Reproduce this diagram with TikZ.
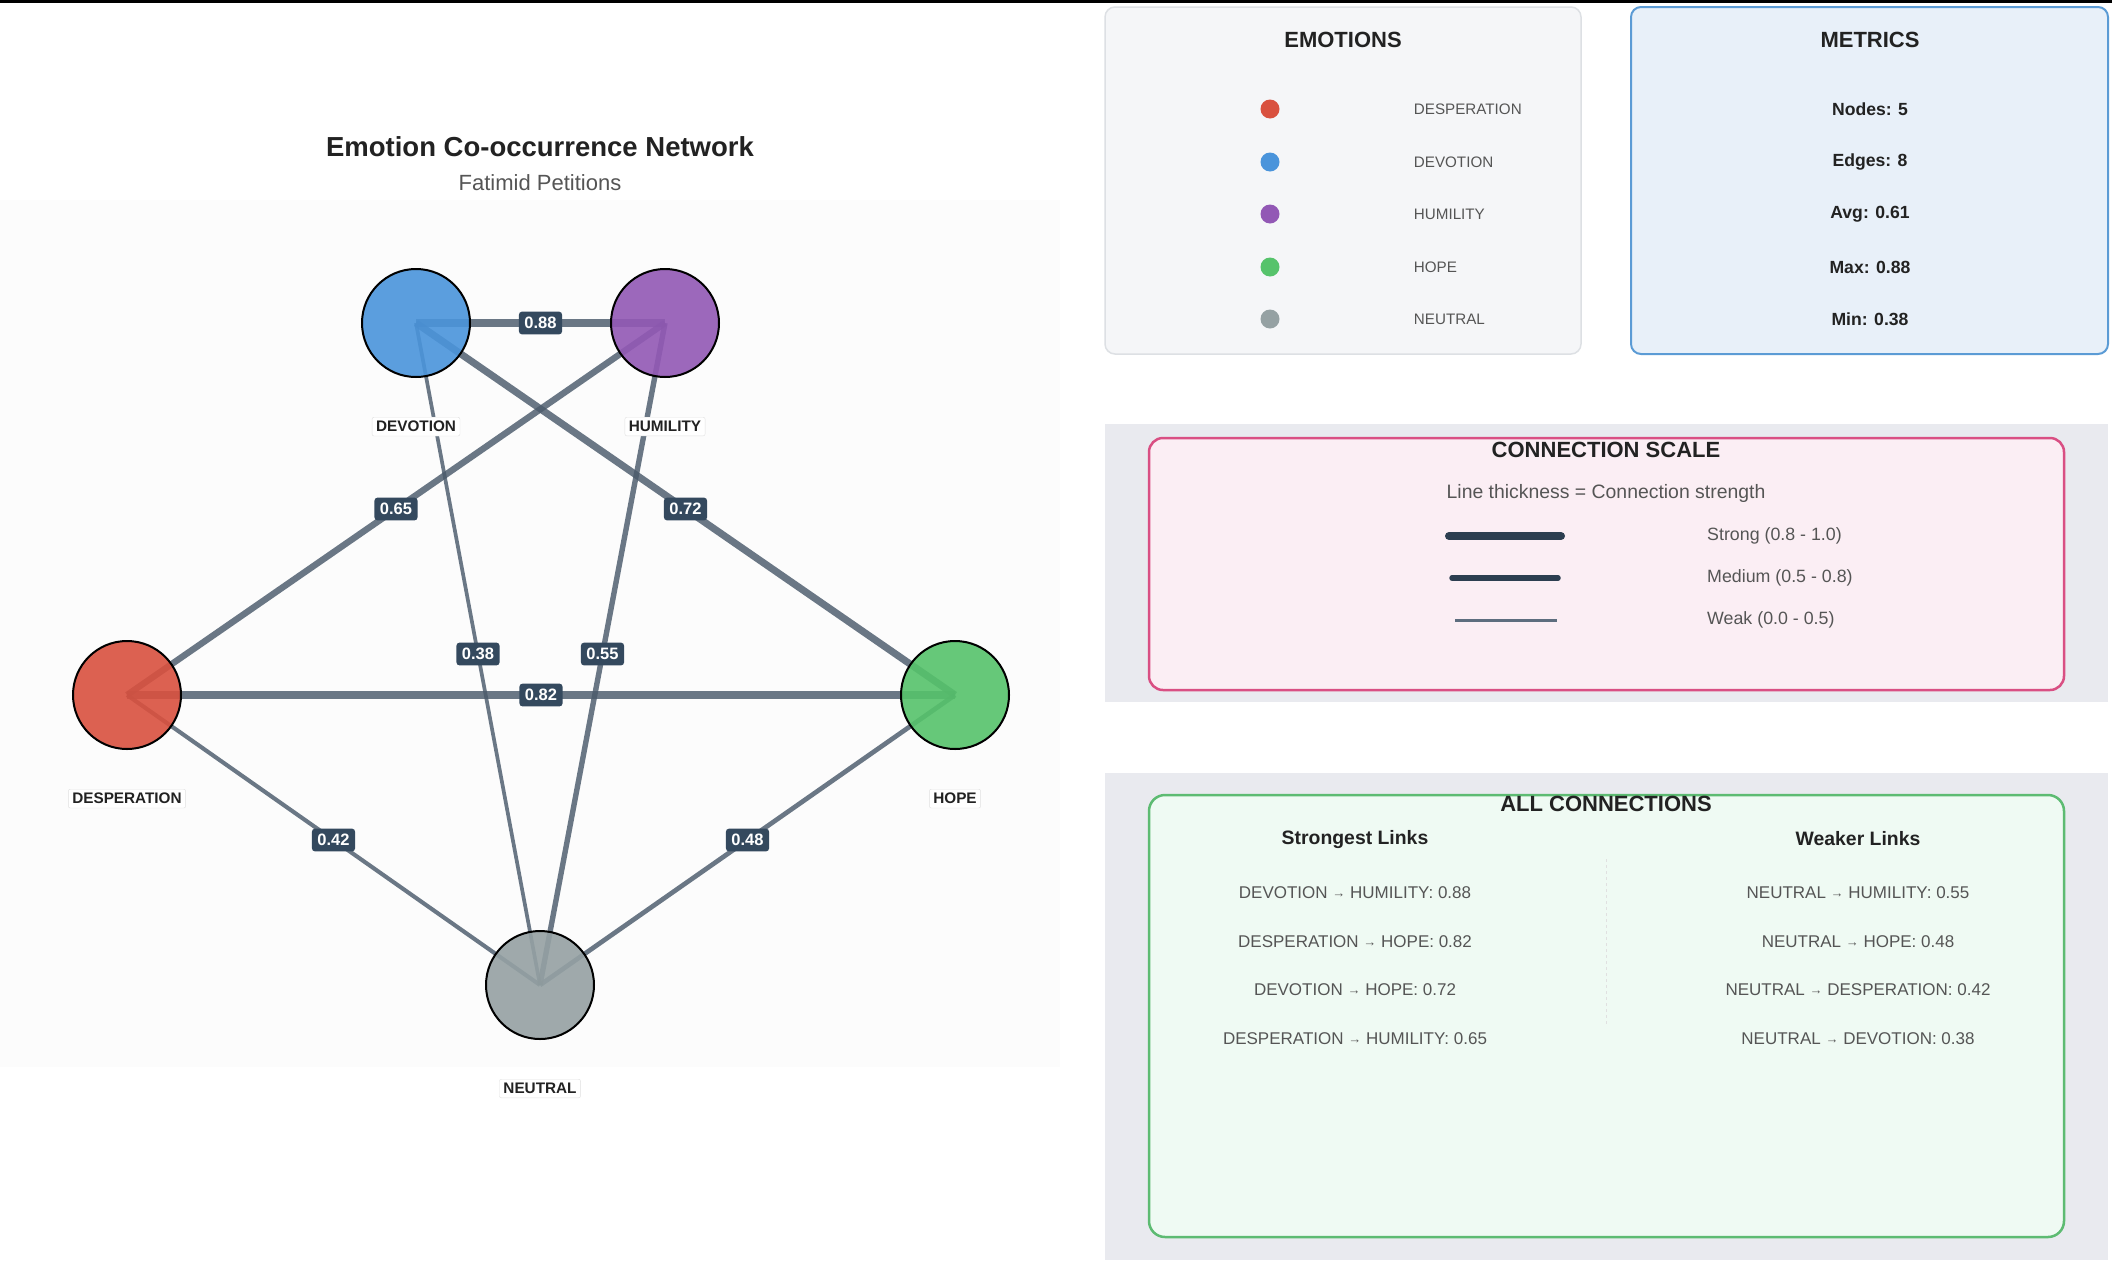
\documentclass[tikz,border=0pt]{standalone}
\usepackage{fontspec}
\setmainfont{Liberation Sans}
\usepackage{xcolor}
\usepackage{tikz}
\usetikzlibrary{positioning}
\pgfdeclarelayer{panel}
\pgfdeclarelayer{links}
\pgfsetlayers{panel,links,main}

\definecolor{despc}{HTML}{D9513F}
\definecolor{devc}{HTML}{4A94DB}
\definecolor{humc}{HTML}{9258B5}
\definecolor{hopec}{HTML}{56C36B}
\definecolor{neuc}{HTML}{95A1A3}
\definecolor{linkc}{HTML}{4B5A6B}
\definecolor{tagc}{HTML}{34495E}
\definecolor{darkline}{HTML}{2C3E50}
\definecolor{weakline}{HTML}{5D6D7E}
\definecolor{inkc}{HTML}{222222}
\definecolor{softc}{HTML}{555555}
\definecolor{netbg}{HTML}{FCFCFC}
\definecolor{emobg}{HTML}{F5F6F8}
\definecolor{emoline}{HTML}{DDE0E4}
\definecolor{metbg}{HTML}{E8F0F9}
\definecolor{metline}{HTML}{5B9BD5}
\definecolor{bandbg}{HTML}{E9EAEF}
\definecolor{scalebg}{HTML}{FBEEF4}
\definecolor{scaleline}{HTML}{D94F83}
\definecolor{connbg}{HTML}{EFFAF3}
\definecolor{connline}{HTML}{5DBB72}

\newcommand{\fsz}[1]{\fontsize{#1}{#1}\selectfont}
\newcommand{\toarr}{\raisebox{1.5pt}{\fsz{13}→}}

\begin{document}
\begin{tikzpicture}[x=1pt, y=-1pt,
  emo/.style={circle, draw=black, line width=2pt, minimum size=108pt, inner sep=0pt, fill opacity=0.9},
  nlab/.style={draw=black!12, fill=white, rounded corners=2pt, inner sep=4pt, text=inkc, font=\fsz{15.3}\bfseries},
  link/.style={draw=linkc, draw opacity=0.82},
  elab/.style={fill=tagc, rounded corners=3pt, inner xsep=5.5pt, inner ysep=5.5pt, text=white, font=\fsz{16.5}\bfseries},
  card/.style={rounded corners=10pt, line width=1.5pt, inner sep=0pt},
  band/.style={fill=bandbg, inner sep=0pt},
  head/.style={text=inkc, font=\fsz{22}\bfseries},
  dot/.style={circle, minimum size=19pt, inner sep=0pt},
  legtxt/.style={text=softc, inner sep=0pt, font=\fsz{15.2}},
  mettxt/.style={text=inkc, font=\fsz{17.6}\bfseries},
  scaletxt/.style={text=softc, inner sep=0pt, anchor=west, font=\fsz{17.8}},
  colhead/.style={text=inkc, font=\fsz{19.4}\bfseries},
  pair/.style={text=softc, font=\fsz{17}}]
\useasboundingbox (0,0) rectangle (2112,1264);

\begin{pgfonlayer}{panel}
\fill[white] (0,0) rectangle (2112,1264);
\node[fill=netbg, inner sep=0pt, minimum width=1060pt, minimum height=867pt] (netpanel) at (530,633.5) {};
\end{pgfonlayer}
\fill[black] (0,0) rectangle (2112,3);

% network
\node[font=\fsz{27.5}\bfseries, text=inkc] (title) at (540,147) {Emotion Co-occurrence Network};
\node[font=\fsz{22}, text=softc] (subtitle) at (540,183) {Fatimid Petitions};

\node[emo, fill=devc] (dev) at (416,323) {};
\node[emo, fill=humc] (hum) at (665,323) {};
\node[emo, fill=despc] (des) at (127,695) {};
\node[emo, fill=hopec] (hope) at (955,695) {};
\node[emo, fill=neuc] (neu) at (540,985) {};

\node[nlab, below=39pt of dev] (devlab) {DEVOTION};
\node[nlab, below=39pt of hum] (humlab) {HUMILITY};
\node[nlab, below=39pt of des] (deslab) {DESPERATION};
\node[nlab, below=39pt of hope] (hopelab) {HOPE};
\node[nlab, below=39pt of neu] (neulab) {NEUTRAL};

\begin{pgfonlayer}{links}
\draw[link, line width=8.7pt] (dev.center) -- node[elab] (w88) {0.88} (hum.center);
\draw[link, line width=8.1pt] (des.center) -- node[elab] (w82) {0.82} (hope.center);
\draw[link, line width=7.1pt] (dev.center) -- node[elab] (w72) {0.72} (hope.center);
\draw[link, line width=6.4pt] (des.center) -- node[elab] (w65) {0.65} (hum.center);
\draw[link, line width=5.4pt] (neu.center) -- node[elab] (w55) {0.55} (hum.center);
\draw[link, line width=4.7pt] (neu.center) -- node[elab] (w48) {0.48} (hope.center);
\draw[link, line width=4.1pt] (neu.center) -- node[elab] (w42) {0.42} (des.center);
\draw[link, line width=3.7pt] (neu.center) -- node[elab] (w38) {0.38} (dev.center);
\end{pgfonlayer}

% emotions legend
\node[card, fill=emobg, draw=emoline, minimum width=476pt, minimum height=347pt] (emopanel) at (1343,180.5) {};
\node[head] (emohead) at (1343,40) {EMOTIONS};
\node[dot, fill=despc] (ldes) at (1270,109) {};
\node[dot, fill=devc] (ldev) at (1270,162) {};
\node[dot, fill=humc] (lhum) at (1270,214) {};
\node[dot, fill=hopec] (lhope) at (1270,267) {};
\node[dot, fill=neuc] (lneu) at (1270,319) {};
\node[legtxt, right=134pt of ldes] (tdes) {DESPERATION};
\node[legtxt, right=134pt of ldev] (tdev) {DEVOTION};
\node[legtxt, right=134pt of lhum] (thum) {HUMILITY};
\node[legtxt, right=134pt of lhope] (thope) {HOPE};
\node[legtxt, right=134pt of lneu] (tneu) {NEUTRAL};

% metrics
\node[card, fill=metbg, draw=metline, line width=2pt, minimum width=477pt, minimum height=347pt] (metpanel) at (1869.5,180.5) {};
\node[head] (methead) at (1870,40) {METRICS};
\node[mettxt] (mnodes) at (1870,109) {Nodes: 5};
\node[mettxt] (medges) at (1870,162) {Edges: 8};
\node[mettxt] (mavg) at (1870,214) {Avg: 0.61};
\node[mettxt] (mmax) at (1870,267) {Max: 0.88};
\node[mettxt] (mmin) at (1870,319) {Min: 0.38};

% connection scale
\node[band, minimum width=1003pt, minimum height=278pt] (scaleband) at (1606.5,563) {};
\node[card, fill=scalebg, draw=scaleline, line width=2.5pt, rounded corners=14pt, minimum width=915pt, minimum height=252pt] (scalebox) at (1606.5,564) {};
\node[head] (scalehead) at (1606,450) {CONNECTION SCALE};
\node[text=softc, font=\fsz{19.4}] (scalesub) at (1606,493) {Line thickness = Connection strength};
\coordinate (sa) at (1449,536); \coordinate (sb) at (1561,536);
\coordinate (ma) at (1452,578); \coordinate (mb) at (1558,578);
\coordinate (wa) at (1455,620); \coordinate (wb) at (1557,620);
\draw[draw=darkline, line width=8pt, line cap=round] (sa) -- (sb);
\draw[draw=darkline, line width=5.5pt, line cap=round] (ma) -- (mb);
\draw[draw=weakline, line width=3pt] (wa) -- (wb);
\node[scaletxt] (tstrong) at (1707,536) {Strong (0.8 - 1.0)};
\node[scaletxt] (tmedium) at (1707,578) {Medium (0.5 - 0.8)};
\node[scaletxt] (tweak) at (1707,620) {Weak (0.0 - 0.5)};

% all connections
\node[band, minimum width=1003pt, minimum height=487pt] (connband) at (1606.5,1016.5) {};
\node[card, fill=connbg, draw=connline, line width=2.5pt, rounded corners=16pt, minimum width=915pt, minimum height=442pt] (connbox) at (1606.5,1016) {};
\node[head] (connhead) at (1606,804) {ALL CONNECTIONS};
\node[colhead] (stronghead) at (1355,840) {Strongest Links};
\node[colhead] (weakhead) at (1858,839) {Weaker Links};
\coordinate (dtop) at (1606,859); \coordinate (dbot) at (1606,1026);
\draw[dashed, draw=black!12, line width=0.8pt] (dtop) -- (dbot);
\node[pair] (s1) at (1355,893) {DEVOTION \toarr{} HUMILITY: 0.88};
\node[pair] (s2) at (1355,942) {DESPERATION \toarr{} HOPE: 0.82};
\node[pair] (s3) at (1355,990) {DEVOTION \toarr{} HOPE: 0.72};
\node[pair] (s4) at (1355,1039) {DESPERATION \toarr{} HUMILITY: 0.65};
\node[pair] (k1) at (1858,893) {NEUTRAL \toarr{} HUMILITY: 0.55};
\node[pair] (k2) at (1858,942) {NEUTRAL \toarr{} HOPE: 0.48};
\node[pair] (k3) at (1858,990) {NEUTRAL \toarr{} DESPERATION: 0.42};
\node[pair] (k4) at (1858,1039) {NEUTRAL \toarr{} DEVOTION: 0.38};
\end{tikzpicture}
\end{document}
